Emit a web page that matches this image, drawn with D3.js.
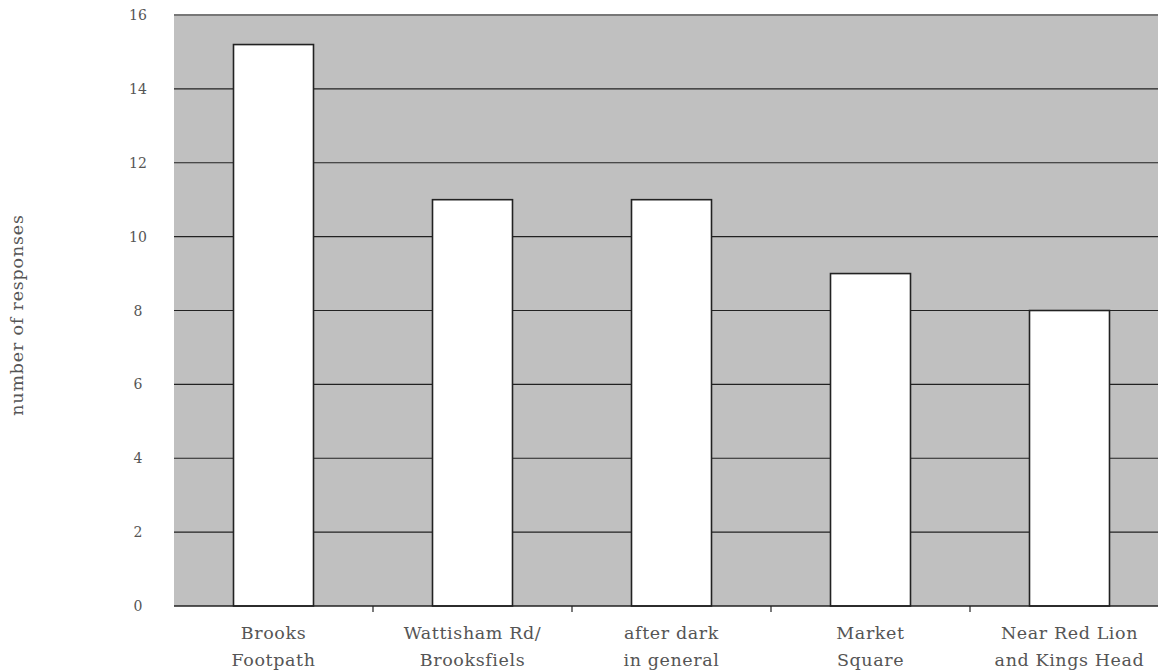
<!DOCTYPE html>
<html><head><meta charset="utf-8">
<script src="https://cdn.jsdelivr.net/npm/d3@7"></script>
<style>body{margin:0;background:#fff;}svg{display:block;}</style>
</head><body>
<svg id="chart" width="1158" height="671"></svg>
<script>
const categories = [["Brooks","Footpath"],["Wattisham Rd/","Brooksfiels"],["after dark","in general"],["Market","Square"],["Near Red Lion","and Kings Head"]];
const values = [15.2, 11, 11, 9, 8];
const yTicks = [0,2,4,6,8,10,12,14,16];

const svg = d3.select("#chart");
const pLeft = 174, pRight = 1169, pTop = 15, pBottom = 606;
const font = "'DejaVu Serif', 'Liberation Serif', serif";
const keys = categories.map((c,i)=>i);
const x = d3.scaleBand().domain(keys).range([pLeft,pRight]).paddingInner(0).paddingOuter(0);
const y = d3.scaleLinear().domain([0,16]).range([pBottom,pTop]);
const barW = x.bandwidth()*0.402;

svg.append("rect").attr("x",pLeft).attr("y",pTop).attr("width",pRight-pLeft).attr("height",pBottom-pTop).attr("fill","#c0c0c0");

svg.append("g").selectAll("line").data(yTicks.filter(t=>t>0)).join("line")
  .attr("x1",pLeft).attr("x2",pRight).attr("y1",d=>y(d)).attr("y2",d=>y(d))
  .attr("stroke",d=>d===16?"#777":"#222").attr("stroke-width",d=>d===16?2:1.2);

svg.append("g").selectAll("rect").data(values).join("rect")
  .attr("x",(d,i)=>x(i)+x.bandwidth()/2-barW/2).attr("width",barW)
  .attr("y",d=>y(d)).attr("height",d=>pBottom-y(d))
  .attr("fill","#fff").attr("stroke","#222").attr("stroke-width",1.6);

// x axis
const xAxis = svg.append("g").attr("transform",`translate(0,${pBottom})`);
xAxis.append("line").attr("x1",pLeft).attr("x2",pRight).attr("stroke","#222").attr("stroke-width",1.6);
xAxis.selectAll("line.tk").data(keys.slice(1)).join("line").attr("class","tk")
  .attr("x1",d=>x(d)).attr("x2",d=>x(d)).attr("y1",0).attr("y2",6).attr("stroke","#222").attr("stroke-width",1.2);
const lbl = xAxis.selectAll("text").data(categories).join("text")
  .attr("x",(d,i)=>x(i)+x.bandwidth()/2).attr("y",33)
  .attr("text-anchor","middle").attr("font-family",font).attr("font-size",17.5)
  .attr("letter-spacing",0.6).attr("fill","#555");
lbl.append("tspan").attr("x",(d,i)=>x(i)+x.bandwidth()/2).attr("dy",0).text(d=>d[0]);
lbl.append("tspan").attr("x",(d,i)=>x(i)+x.bandwidth()/2).attr("dy",27).text(d=>d[1]);

// y labels
svg.append("g").selectAll("text").data(yTicks).join("text")
  .attr("x",138).attr("y",d=>y(d)+5).attr("text-anchor","middle")
  .attr("font-family",font).attr("font-size",14).attr("fill","#555").text(d=>d);

svg.append("text").attr("transform","translate(23,315) rotate(-90)").attr("text-anchor","middle")
  .attr("font-family",font).attr("font-size",17.5).attr("letter-spacing",0.8).attr("fill","#555").text("number of responses");
</script>
</body></html>
